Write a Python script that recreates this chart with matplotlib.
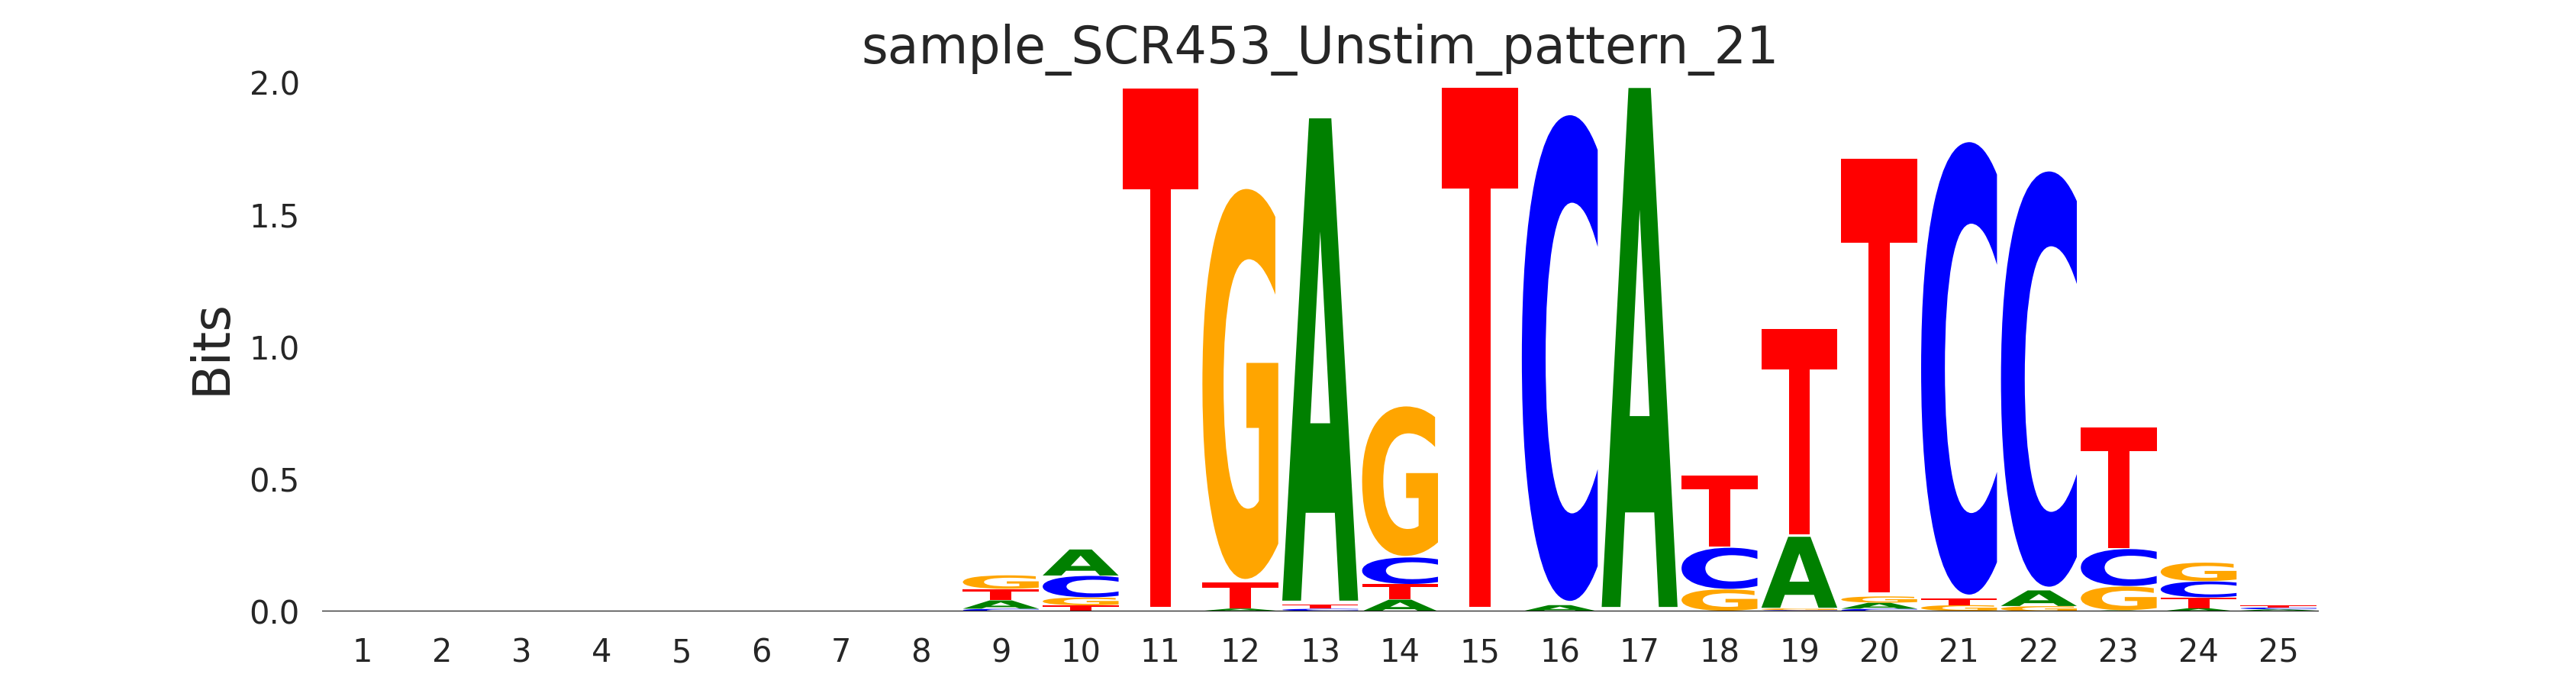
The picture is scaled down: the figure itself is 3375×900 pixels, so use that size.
import matplotlib
matplotlib.use("Agg")
import matplotlib.pyplot as plt
import matplotlib.transforms as mtransforms
from matplotlib.textpath import TextPath
from matplotlib.patches import PathPatch
from matplotlib.font_manager import FontProperties
import numpy as np

title = "sample_SCR453_Unstim_pattern_21"
positions = list(range(1, 26))
letters = ["A", "C", "G", "T"]

bits_A = [0] * 8 + [0.032, 0.100, 0.0, 0.009, 1.855, 0.045, 0.0, 0.024, 1.996,
                    0.002, 0.273, 0.023, 0.002, 0.060, 0.004, 0.012, 0.005]
bits_C = [0] * 8 + [0.010, 0.082, 0.0, 0.002, 0.008, 0.102, 0.0, 1.868, 0.0,
                    0.158, 0.005, 0.010, 1.740, 1.597, 0.142, 0.061, 0.007]
bits_G = [0] * 8 + [0.052, 0.030, 0.0, 1.500, 0.002, 0.575, 0.0, 0.0, 0.0,
                    0.082, 0.0065, 0.024, 0.022, 0.020, 0.091, 0.071, 0.003]
bits_T = [0] * 8 + [0.043, 0.023, 1.995, 0.099, 0.015, 0.058, 1.998, 0.0, 0.0,
                    0.274, 0.789, 1.670, 0.025, 0.0, 0.463, 0.041, 0.008]

colors = {"A": "#008000", "C": "#0000ff", "G": "#ffa500", "T": "#ff0000"}
letter_width = 0.95
vpad = 0.017
text_color = "#262626"

glyph_font = FontProperties(family="DejaVu Sans", weight="bold")


def draw_glyph(ax, char, x, floor, ceiling, color):
    height = ceiling - floor
    if height <= 0:
        return
    path = TextPath((0, 0), char, size=1, prop=glyph_font)
    bbox = path.get_extents()
    pad = vpad * height / 2.0
    h = height - 2 * pad
    t = (mtransforms.Affine2D()
         .translate(-bbox.x0, -bbox.y0)
         .scale(letter_width / bbox.width, h / bbox.height)
         .translate(x - letter_width / 2.0, floor + pad))
    ax.add_patch(PathPatch(t.transform_path(path), facecolor=color,
                           edgecolor="none", linewidth=0, zorder=2))


fig, ax = plt.subplots(figsize=(11.25, 3), dpi=300)

table = np.array([bits_A, bits_C, bits_G, bits_T])
for i, pos in enumerate(positions):
    vals = table[:, i]
    floor = 0.0
    for j in np.argsort(vals, kind="stable"):
        v = vals[j]
        draw_glyph(ax, letters[j], pos, floor, floor + v, colors[letters[j]])
        floor += v

ax.axhline(0, color="black", linewidth=0.5, zorder=3)

ax.set_xlim(0.5, 25.5)
ax.set_ylim(0, 2.0)
ax.set_xticks(positions)
ax.set_xticklabels([str(p) for p in positions])
ax.set_yticks([0.0, 0.5, 1.0, 1.5, 2.0])
ax.set_yticklabels(["0.0", "0.5", "1.0", "1.5", "2.0"])
ax.tick_params(axis="both", length=0, labelsize=10, colors=text_color)
ax.tick_params(axis="y", pad=7)
ax.tick_params(axis="x", pad=8)
for s in ax.spines.values():
    s.set_visible(False)

ax.set_ylabel("Bits", fontsize=16, color=text_color)
ax.set_title(title, fontsize=16, color=text_color)

fig.subplots_adjust(left=0.125, right=0.9, bottom=0.11, top=0.88)
fig.savefig("out.png", dpi=300)
